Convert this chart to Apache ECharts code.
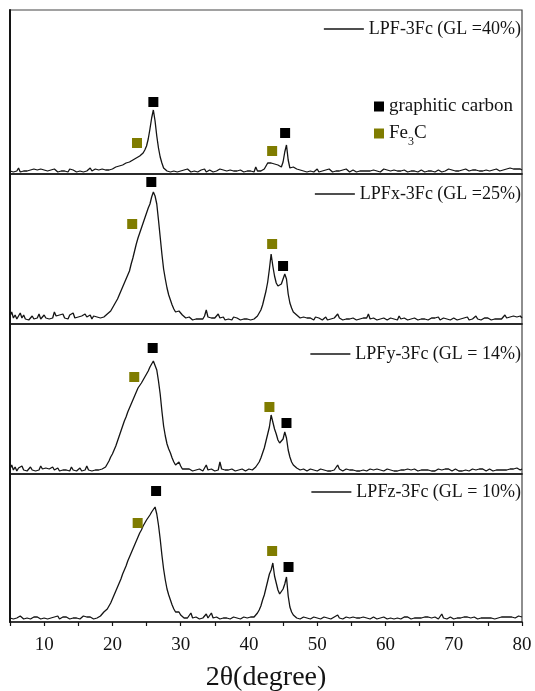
<!DOCTYPE html>
<html>
<head>
<meta charset="utf-8">
<script src="https://cdn.jsdelivr.net/npm/echarts@6/dist/echarts.min.js"></script>
<style>
  html, body { margin: 0; padding: 0; background: #fff; }
  #chart { width: 535px; height: 691px; }
</style>
</head>
<body>
<div id="chart"></div>
<script>
// XRD scans, 2θ from 5° to 80°, step 0.25°, 8 points per row (2° per row)
const twoThetaStart = 5
const twoThetaStep = 0.25

// LPF-3Fc (GL = 40%)
const lpfCounts = [
  3, 5, 2, 4, 3, 6, 2, 4,   // 5
  3, 5, 3, 2, 4, 3, 5, 3,   // 7
  4, 2, 5, 3, 4, 6, 3, 2,   // 9
  4, 3, 5, 3, 2, 4, 3, 5,   // 11
  3, 4, 2, 5, 3, 4, 3, 2,   // 13
  4, 3, 5, 2, 4, 3, 4, 6,   // 15
  3, 4, 5, 3, 4, 3, 5, 4,   // 17
  4, 5, 4, 6, 5, 6, 7, 6,   // 19
  8, 7, 9, 10, 11, 10, 12, 13,   // 21
  14, 13, 16, 17, 18, 20, 21, 24, // 23
  28, 35, 45, 56, 64, 53, 38, 26, // 25
  17, 11, 6, 5, 3, 4, 2, 4,   // 27
  3, 5, 2, 4, 3, 2, 4, 3,   // 29
  5, 3, 2, 4, 3, 5, 2, 3,   // 31
  4, 3, 5, 2, 3, 4, 3, 2,   // 33
  4, 3, 2, 5, 3, 4, 2, 3,   // 35
  3, 4, 2, 3, 5, 3, 2, 4,   // 37
  3, 2, 4, 3, 5, 3, 4, 2,   // 39
  7, 3, 4, 3, 4, 5, 8, 11,  // 41
  12, 11, 12, 10, 11, 9, 8, 7, // 43
  12, 22, 29, 14, 6, 5, 7, 8,  // 45
  5, 3, 4, 2, 3, 4, 2, 3,   // 47
  3, 4, 2, 3, 5, 2, 4, 3,   // 49
  2, 4, 3, 5, 3, 2, 4, 3,   // 51
  4, 3, 2, 4, 3, 5, 3, 2,   // 53
  3, 4, 3, 2, 4, 3, 5, 3,   // 55
  2, 3, 4, 3, 2, 4, 3, 3,   // 57
  4, 2, 3, 5, 3, 4, 2, 3,   // 59
  3, 4, 2, 3, 4, 3, 2, 4,   // 61
  3, 2, 4, 3, 5, 3, 4, 2,   // 63
  3, 4, 3, 2, 4, 3, 5, 3,   // 65
  4, 2, 3, 4, 3, 2, 4, 3,   // 67
  3, 5, 3, 4, 2, 3, 4, 3,   // 69
  2, 4, 3, 5, 4, 3, 2, 4,   // 71
  3, 4, 5, 3, 4, 3, 5, 4,   // 73
  4, 3, 5, 4, 3, 5, 4, 3,   // 75
  5, 4, 3, 5, 4, 6, 4, 5,   // 77
  4, 5, 3, 5, 4             // 79
]

// LPFx-3Fc (GL = 25%)
const lpfxCounts = [
  8, 12, 6, 9, 5, 7, 11, 6,  // 5
  9, 5, 7, 4, 6, 8, 5, 7,    // 7
  6, 10, 5, 7, 9, 6, 8, 5,   // 9
  7, 6, 12, 8, 6, 9, 7, 10,  // 11
  6, 8, 5, 9, 7, 11, 6, 8,   // 13
  7, 5, 8, 6, 10, 7, 6, 9,   // 15
  5, 8, 6, 7, 9, 6, 8, 7,    // 17
  9, 10, 11, 13, 16, 19, 22, 25,      // 19
  29, 33, 37, 41, 45, 49, 53, 60,     // 21
  66, 73, 80, 86, 91, 96, 101, 106,   // 23
  111, 116, 120, 127, 132, 128, 120, 104, // 25
  87, 70, 55, 45, 36, 29, 24, 19,     // 27
  15, 12, 10, 13, 15, 9, 7, 6,        // 29
  5, 7, 6, 4, 6, 5, 7, 5,    // 31
  6, 5, 8, 14, 7, 5, 6, 4,   // 33
  6, 7, 10, 6, 5, 7, 4, 6,   // 35
  5, 6, 4, 7, 5, 6, 5, 4,    // 37
  6, 5, 7, 5, 6, 4, 6, 5,    // 39
  7, 8, 10, 14, 19, 26, 33, 42,   // 41
  55, 70, 58, 48, 41, 38, 36, 40, // 43
  38, 50, 45, 30, 21, 16, 12, 10, // 45
  9, 7, 6, 5, 7, 5, 6, 4,    // 47
  6, 5, 4, 7, 5, 6, 5, 4,    // 49
  5, 7, 4, 6, 5, 4, 6, 5,    // 51
  10, 6, 5, 4, 6, 5, 7, 5,   // 53
  4, 6, 5, 4, 6, 5, 4, 6,    // 55
  5, 6, 10, 5, 4, 6, 5, 4,   // 57
  6, 5, 4, 6, 5, 4, 5, 6,    // 59
  4, 5, 6, 4, 8, 5, 4, 6,    // 61
  5, 4, 6, 5, 4, 6, 5, 4,    // 63
  6, 5, 4, 5, 6, 4, 5, 6,    // 65
  4, 6, 5, 7, 4, 5, 6, 4,    // 67
  5, 6, 4, 5, 6, 5, 4, 6,    // 69
  5, 4, 6, 5, 7, 4, 6, 5,    // 71
  5, 8, 5, 6, 4, 5, 6, 5,    // 73
  6, 5, 4, 6, 5, 7, 5, 6,    // 75
  5, 6, 9, 6, 5, 7, 6, 8,    // 77
  6, 7, 5, 8, 6              // 79
]

// LPFy-3Fc (GL = 14%)
const lpfyCounts = [
  5, 9, 4, 7, 3, 6, 4, 8,    // 5
  4, 6, 3, 5, 7, 4, 6, 3,    // 7
  5, 4, 8, 5, 3, 6, 4, 5,    // 9
  3, 7, 4, 5, 6, 3, 5, 4,    // 11
  6, 4, 5, 3, 7, 4, 5, 3,    // 13
  4, 6, 3, 5, 4, 8, 4, 5,    // 15
  3, 5, 4, 6, 4, 5, 5, 6,    // 17
  7, 9, 13, 17, 20, 24, 28, 33,       // 19
  38, 43, 48, 53, 57, 62, 66, 70,     // 21
  74, 78, 82, 86, 88, 91, 94, 97,     // 23
  100, 103, 107, 110, 113, 114, 104, 93, // 25
  80, 63, 48, 38, 30, 25, 21, 16,     // 27
  12, 9, 7, 12, 8, 5, 4, 5,  // 29
  3, 5, 4, 3, 5, 4, 3, 5,    // 31
  4, 3, 6, 9, 4, 3, 5, 4,    // 33
  3, 5, 4, 12, 5, 3, 4, 5,   // 35
  4, 3, 5, 4, 3, 5, 4, 3,    // 37
  5, 4, 3, 4, 5, 3, 4, 5,    // 39
  7, 9, 12, 16, 21, 26, 33, 40,   // 41
  47, 59, 52, 45, 40, 34, 31, 33, // 43
  35, 42, 36, 24, 17, 12, 9, 7,   // 45
  6, 5, 4, 3, 5, 4, 3, 4,    // 47
  5, 3, 4, 5, 3, 4, 5, 3,    // 49
  4, 5, 3, 4, 3, 5, 4, 3,    // 51
  9, 5, 4, 3, 4, 5, 3, 4,    // 53
  3, 4, 5, 3, 4, 3, 5, 4,    // 55
  4, 3, 4, 5, 3, 4, 3, 5,    // 57
  3, 4, 5, 3, 4, 5, 3, 4,    // 59
  5, 3, 4, 3, 5, 4, 3, 4,    // 61
  4, 5, 3, 4, 3, 5, 4, 3,    // 63
  3, 4, 5, 4, 3, 4, 5, 3,    // 65
  4, 3, 4, 5, 3, 4, 3, 5,    // 67
  3, 5, 4, 3, 4, 5, 4, 3,    // 69
  4, 3, 5, 4, 5, 3, 4, 5,    // 71
  5, 4, 3, 5, 4, 5, 4, 3,    // 73
  4, 5, 4, 3, 5, 4, 5, 4,    // 75
  5, 4, 5, 4, 6, 5, 4, 5,    // 77
  4, 6, 5, 4, 5              // 79
]

// LPFz-3Fc (GL = 10%)
const lpfzCounts = [
  4, 6, 3, 5, 4, 3, 6, 4,    // 5
  3, 5, 4, 6, 3, 4, 5, 3,    // 7
  5, 4, 3, 5, 4, 6, 3, 4,    // 9
  4, 3, 5, 4, 6, 3, 4, 5,    // 11
  3, 5, 4, 3, 5, 4, 6, 4,    // 13
  5, 3, 4, 6, 4, 5, 3, 5,    // 15
  4, 3, 5, 4, 4, 6, 8, 10,   // 17
  12, 13, 15, 19, 23, 27, 31, 35,     // 19
  39, 43, 48, 52, 56, 61, 65, 69,     // 21
  73, 77, 81, 85, 89, 92, 96, 99,     // 23
  102, 104, 107, 110, 112, 115, 108, 97, // 25
  83, 67, 53, 42, 33, 27, 22, 17,     // 27
  13, 10, 9, 10, 7, 5, 4, 5, // 29
  4, 5, 9, 4, 3, 5, 4, 3,    // 31
  5, 4, 3, 8, 4, 5, 9, 4,    // 33
  3, 5, 4, 3, 5, 4, 3, 4,    // 35
  5, 3, 4, 5, 3, 4, 5, 3,    // 37
  4, 5, 3, 4, 3, 5, 4, 5,    // 39
  7, 9, 12, 16, 22, 27, 34, 41,   // 41
  48, 52, 59, 46, 39, 32, 28, 29, // 43
  33, 38, 45, 26, 15, 10, 7, 6,   // 45
  4, 5, 3, 4, 5, 3, 4, 5,    // 47
  3, 4, 5, 3, 4, 5, 3, 4,    // 49
  5, 3, 4, 5, 3, 4, 5, 3,    // 51
  7, 4, 5, 3, 4, 5, 3, 4,    // 53
  4, 5, 3, 4, 5, 4, 3, 5,    // 55
  3, 4, 5, 3, 4, 5, 4, 3,    // 57
  5, 4, 3, 5, 4, 3, 5, 4,    // 59
  4, 3, 5, 4, 5, 3, 4, 5,    // 61
  3, 5, 4, 3, 5, 4, 3, 4,    // 63
  5, 4, 3, 5, 4, 5, 3, 4,    // 65
  4, 5, 4, 3, 5, 8, 4, 5,    // 67
  3, 4, 5, 4, 3, 5, 4, 5,    // 69
  4, 3, 5, 4, 5, 3, 4, 5,    // 71
  5, 4, 3, 5, 4, 5, 4, 3,    // 73
  4, 5, 4, 5, 3, 5, 4, 5,    // 75
  5, 4, 5, 4, 5, 4, 5, 6,    // 77
  4, 5, 6, 4, 5              // 79
]

const sampleCounts = [lpfCounts, lpfxCounts, lpfyCounts, lpfzCounts]
const sampleLabels = ['LPF-3Fc (GL =40%)', 'LPFx-3Fc (GL =25%)', 'LPFy-3Fc (GL = 14%)', 'LPFz-3Fc (GL = 10%)']
const intensityMax = [164, 150, 150, 148]

// peak markers [2θ, height] for each panel
const graphiticMarks = [
  [[26.0, 72], [45.3, 41]],
  [[25.7, 142], [45.0, 58]],
  [[25.9, 126], [45.5, 51]],
  [[26.4, 131], [45.8, 55]]
]
const fe3cMarks = [
  [[23.6, 31], [43.4, 23]],
  [[22.9, 100], [43.4, 80]],
  [[23.2, 97], [43.0, 67]],
  [[23.7, 99], [43.4, 71]]
]

const xTicks = [10, 20, 30, 40, 50, 60, 70, 80]

const chart = echarts.init(document.getElementById('chart'))
const font = 'Liberation Serif, Times New Roman, serif'
const ink = '#141414'

const gridBoxes = [
  { top: 10, height: 164 },
  { top: 174, height: 150 },
  { top: 324, height: 150 },
  { top: 474, height: 148 }
]
const legendTops = [20, 185, 345, 483]

function toPairs(counts) {
  return counts.map((v, i) => [twoThetaStart + i * twoThetaStep, v])
}

const grid = gridBoxes.map(b => ({
  left: 10, right: 13, top: b.top, height: b.height,
  outerBoundsMode: 'none', containLabel: false,
  show: true, borderColor: '#444', borderWidth: 1.2
}))

const xAxis = gridBoxes.map((b, i) => {
  const last = i === gridBoxes.length - 1
  return {
    type: 'value', gridIndex: i, min: 5, max: 80, interval: 5,
    axisLine: { show: true, onZero: false, lineStyle: { color: ink, width: 1.6 } },
    axisTick: { show: last, length: 4, lineStyle: { color: ink, width: 1.2 } },
    axisLabel: {
      show: last, margin: 14, fontSize: 19, fontFamily: font, color: ink,
      formatter: v => xTicks.includes(v) ? String(v) : ''
    },
    splitLine: { show: false },
    name: last ? '2θ(degree)' : '',
    nameLocation: 'middle', nameGap: 42,
    nameTextStyle: { fontSize: 28, fontFamily: font, color: ink }
  }
})

const yAxis = gridBoxes.map((b, i) => ({
  type: 'value', gridIndex: i, min: 0, max: intensityMax[i],
  axisLine: { show: true, lineStyle: { color: ink, width: 2 } },
  axisTick: { show: false }, axisLabel: { show: false }, splitLine: { show: false }
}))

const series = []
sampleCounts.forEach((counts, i) => {
  series.push({
    name: sampleLabels[i], type: 'line', xAxisIndex: i, yAxisIndex: i,
    data: toPairs(counts), symbol: 'none', animation: false,
    lineStyle: { color: ink, width: 1.3 }, itemStyle: { color: ink }
  })
  series.push({
    name: 'graphitic carbon', type: 'scatter', xAxisIndex: i, yAxisIndex: i,
    data: graphiticMarks[i], symbol: 'rect', symbolSize: 10,
    itemStyle: { color: '#000', opacity: 1 }, animation: false, z: 5
  })
  series.push({
    name: 'Fe3C', type: 'scatter', xAxisIndex: i, yAxisIndex: i,
    data: fe3cMarks[i], symbol: 'rect', symbolSize: 10,
    itemStyle: { color: '#7f7c00', opacity: 1 }, animation: false, z: 5
  })
})

const legend = sampleLabels.map((name, i) => ({
  data: [{ name, icon: 'rect' }], right: 14, top: legendTops[i], padding: 0,
  itemWidth: 40, itemHeight: 1.3, selectedMode: false,
  itemStyle: { color: ink, borderWidth: 0 },
  textStyle: { fontSize: 18, fontFamily: font, color: ink }
}))
legend.push({
  data: ['graphitic carbon', 'Fe3C'], left: 374, top: 96, padding: 0,
  orient: 'vertical', itemWidth: 10, itemHeight: 10, itemGap: 6, selectedMode: false,
  formatter: name => name === 'Fe3C' ? 'Fe{sub|3}C' : name,
  textStyle: {
    fontSize: 19, fontFamily: font, color: ink, lineHeight: 21,
    rich: { sub: { fontSize: 12, fontFamily: font, color: ink, verticalAlign: 'bottom', lineHeight: 12, padding: [0, 0, -4, 0] } }
  }
})

chart.setOption({
  animation: false,
  backgroundColor: '#fff',
  grid, xAxis, yAxis, legend, series
})
</script>
</body>
</html>
